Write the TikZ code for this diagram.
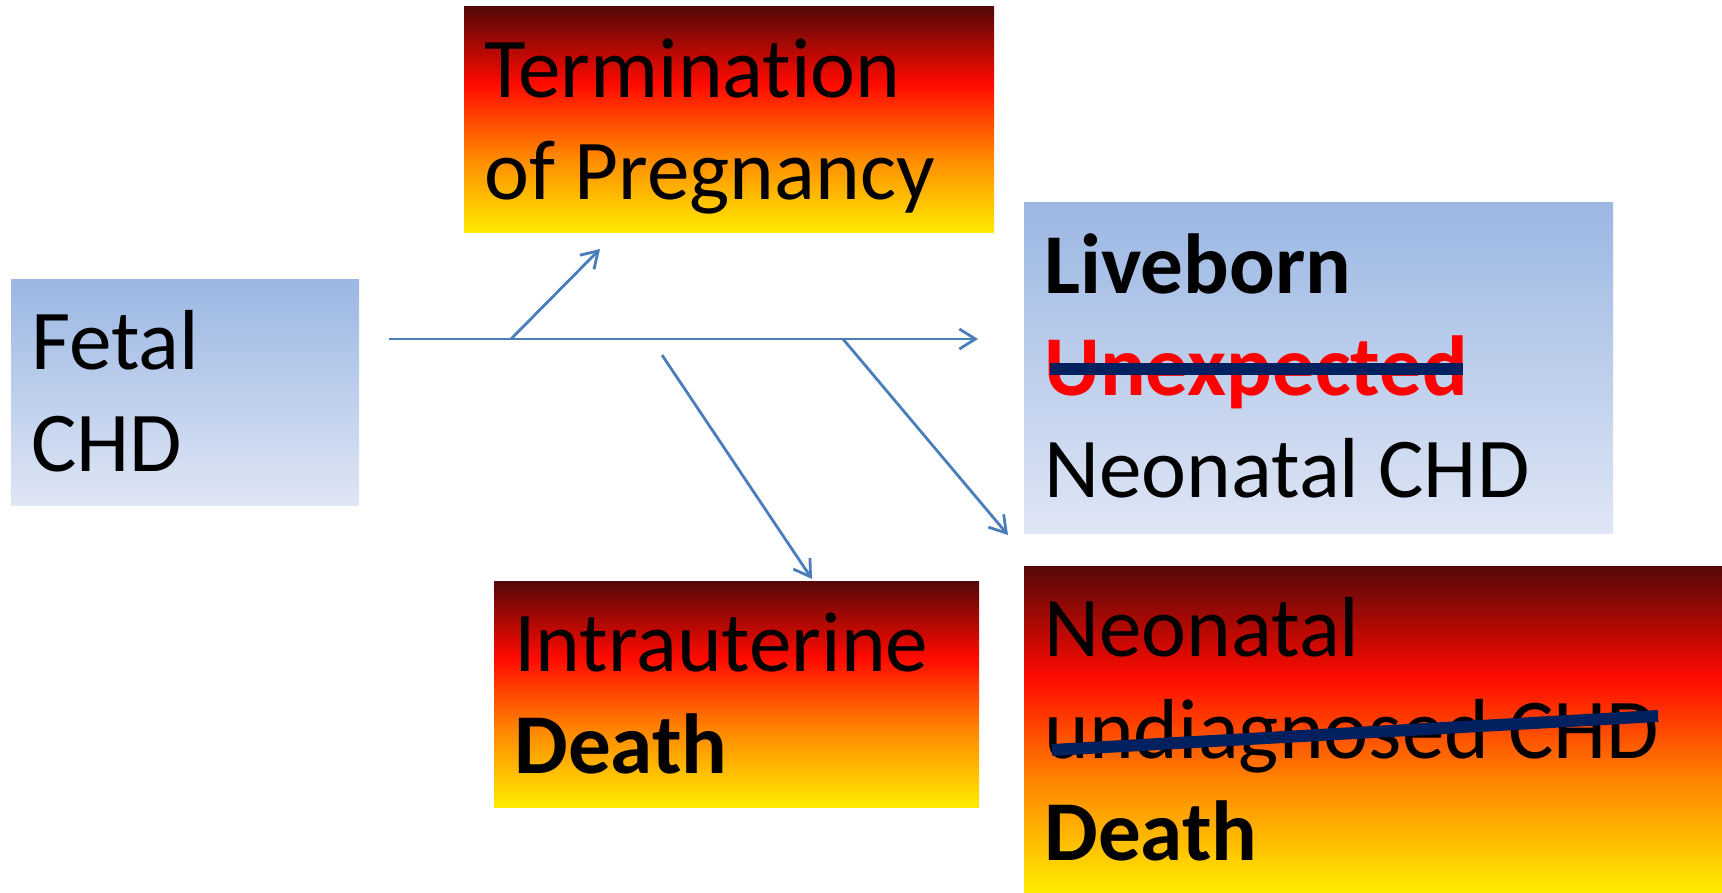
\documentclass[tikz,border=0pt]{standalone}
\usepackage{fontspec}
\setmainfont{Carlito}[RawFeature=-liga]
\usetikzlibrary{arrows.meta,positioning}

\definecolor{BlueTop}{RGB}{155,183,227}
\definecolor{BlueBot}{RGB}{223,230,245}
\definecolor{FireDark}{RGB}{84,8,8}
\definecolor{FireRed}{RGB}{255,10,0}
\definecolor{FireOrange}{RGB}{255,135,0}
\definecolor{FireYellow}{RGB}{255,236,0}
\definecolor{EdgeBlue}{RGB}{74,126,187}
\definecolor{StrikeBlue}{RGB}{0,32,96}
\pgfdeclareverticalshading{fire}{100bp}{color(0bp)=(FireYellow); color(25bp)=(FireYellow);
	color(42bp)=(FireOrange); color(58bp)=(FireRed); color(75bp)=(FireDark); color(100bp)=(FireDark)}
\newcommand{\lineone}{\rule{0pt}{45pt}}

\begin{document}
\begin{tikzpicture}[x=0.5pt,y=-0.5pt]
	\tikzset{BoxStyle/.style={rectangle, inner sep=0pt, outer sep=0pt, anchor=north west},
		BlueBox/.style={BoxStyle, top color=BlueTop, bottom color=BlueBot},
		FireBox/.style={BoxStyle, shade, shading=fire},
		TextStyle/.style={inner sep=0pt, align=left, font=\fontsize{42.6}{51}\selectfont},
		EdgeStyle/.style={draw=EdgeBlue, line width=1.4pt, -{Straight Barb[length=8pt,width=10pt]}},
		StrikeStyle/.style={draw=StrikeBlue, line width=6pt}}
	\useasboundingbox (0,0) rectangle (1722,893);
	% boxes
	\node[BlueBox, minimum width=174pt, minimum height=113pt] (fetal) at (11,279) {};
	\node[FireBox, minimum width=265pt, minimum height=113pt] (top) at (464,7) {};
	\node[BlueBox, minimum width=294.5pt, minimum height=165pt] (live) at (1024,203) {};
	\node[FireBox, minimum width=242.5pt, minimum height=113pt] (iud) at (494,581) {};
	\node[FireBox, minimum width=349pt, minimum height=163.5pt] (nnd) at (1024,566) {};
	% texts
	\node[TextStyle, below right=0pt and 10pt of fetal.north west] (fetaltxt) {\lineone Fetal\\CHD};
	\node[TextStyle, below right=0pt and 10pt of top.north west] (toptxt) {\lineone Termination\\of Pregnancy};
	\node[TextStyle, below right=0pt and 10pt of live.north west] (livetxt)
		{\lineone\textbf{Liveborn}\\\textcolor{red}{\textbf{Unexpected}}\\Neonatal CHD};
	\node[TextStyle, below right=0pt and 10pt of iud.north west] (iudtxt) {\lineone Intrauterine\\\textbf{Death}};
	\node[TextStyle, below right=0pt and 10pt of nnd.north west] (nndtxt)
		{\lineone Neonatal\\undiagnosed CHD\\\textbf{Death}};
	% crossed out
	\draw[StrikeStyle] (1050,369) -- (1463,369);
	\draw[StrikeStyle] (1052,750) -- (1658,716);
	% arrows
	\coordinate (start) at (389,339);
	\coordinate (stop) at (978,339);
	\coordinate (upfrom) at (511,339);
	\coordinate (upto) at (600,249);
	\coordinate (iudfrom) at (662,355);
	\coordinate (iudto) at (812,579);
	\coordinate (nndfrom) at (843,339);
	\coordinate (nndto) at (1008,535);
	\draw[EdgeStyle] (start) -- (stop);
	\draw[EdgeStyle] (upfrom) -- (upto);
	\draw[EdgeStyle] (iudfrom) -- (iudto);
	\draw[EdgeStyle] (nndfrom) -- (nndto);
\end{tikzpicture}
\end{document}
